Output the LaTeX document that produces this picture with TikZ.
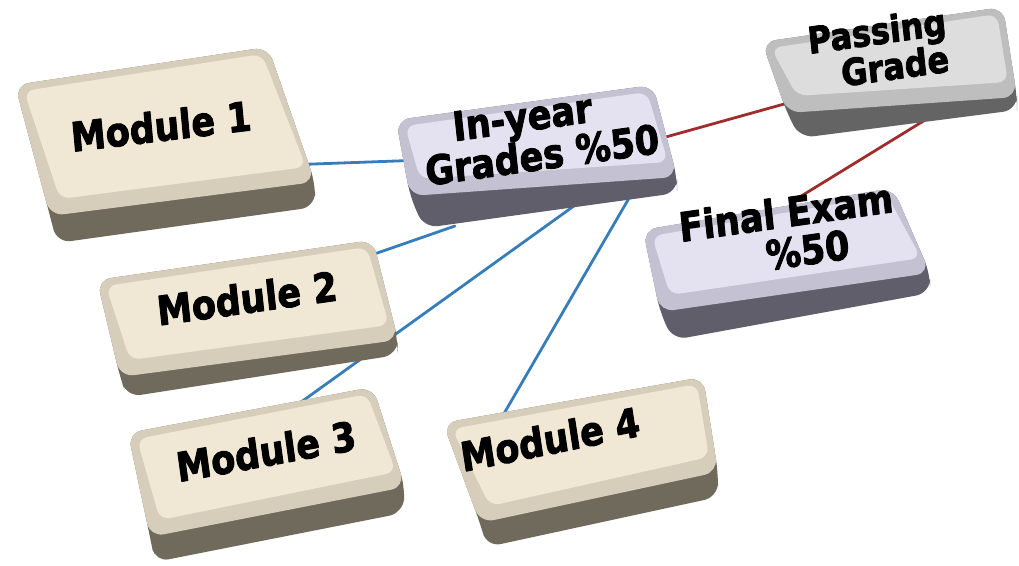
\documentclass[tikz,border=0pt]{standalone}
\usepackage{fontspec}
\setmainfont{DejaVu Sans}
\newfontfamily\keyfont{DejaVu Sans Bold}[FakeBold=2.5]
\usetikzlibrary{calc}

\definecolor{modtop}{RGB}{240,231,212}
\definecolor{modbev}{RGB}{214,205,187}
\definecolor{modside}{RGB}{112,106,93}
\definecolor{lavtop}{RGB}{228,226,240}
\definecolor{lavbev}{RGB}{196,194,210}
\definecolor{lavside}{RGB}{96,94,106}
\definecolor{grytop}{RGB}{221,221,221}
\definecolor{grybev}{RGB}{190,190,190}
\definecolor{gryside}{RGB}{100,100,100}
\definecolor{linkblue}{RGB}{55,125,185}
\definecolor{linkred}{RGB}{160,45,45}

% #1 colour, #2 TL, #3 TR, #4 BR, #5 BL, #6 BR of side, #7 BL of side
\newcommand{\keycap}[7]{%
	\fill[#1side, rounded corners=14pt] (#2) -- (#3) -- (#4) -- (#6) -- (#7) -- (#5) -- cycle;
	\fill[#1bev, rounded corners=14pt] (#2) -- (#3) -- (#4) -- (#5) -- cycle;
	\fill[#1top, rounded corners=10pt] ($(#2)+(9,6)$) -- ($(#3)+(-6,7)$)
		-- ($(#4)+(-9,-15)$) -- ($(#5)+(10,-17)$) -- cycle;
}

\tikzset{
	lbl/.style={font=\keyfont\fontsize{35}{31}\selectfont, align=center, inner sep=0pt, yscale=1.15},
	bluelink/.style={draw=linkblue, line width=2.8pt},
	redlink/.style={draw=linkred, line width=2.8pt}
}

\begin{document}
\begin{tikzpicture}[x=1pt, y=-1pt, line join=round, line cap=round]
	
	\useasboundingbox (0,0) rectangle (1019,565);
	
	% connector ends
	\coordinate (m1e) at (300,164.5);  \coordinate (iyw) at (410,160.5);
	\coordinate (m2n) at (360,259);    \coordinate (iysw) at (455,226);
	\coordinate (m3n) at (290,410);    \coordinate (iys) at (585,198);
	\coordinate (m4n) at (502,417);    \coordinate (iyse) at (632,193);
	\coordinate (iye) at (655,140);    \coordinate (pgw) at (795,101);
	\coordinate (pgs) at (930,117);    \coordinate (fen) at (798,198);
	
	\draw[bluelink] (m1e) -- (iyw);
	\draw[bluelink] (m2n) -- (iysw);
	\draw[bluelink] (m3n) -- (iys);
	\draw[bluelink] (m4n) -- (iyse);
	\draw[redlink] (iye) -- (pgw);
	\draw[redlink] (pgs) -- (fen);
	
	% keys, back to front
	\keycap{mod}{15,85}{268,47}{315,182}{50,216}{315,207}{57,243}
	\keycap{lav}{396,120}{653,85}{677,177}{410,196}{677,193}{424,228}
	\keycap{gry}{762,42}{1003,7}{1017,97}{787,113}{1017,110}{800,138}
	\keycap{lav}{643,230}{893,188}{930,273}{660,312}{930,293}{673,340}
	\keycap{mod}{97,280}{373,240}{398,340}{120,377}{397,355}{127,397}
	\keycap{mod}{128,433}{373,387}{405,487}{150,537}{403,513}{155,562}
	\keycap{mod}{443,423}{703,377}{718,472}{480,523}{718,497}{487,547}
	
	\node[lbl, rotate=6] (m1) at (161,126) {Module 1};
	\node[lbl, rotate=7] (iy) at (540,135) {In-year\hspace*{0.9em}\\Grades \%50};
	\node[lbl, rotate=7, font=\keyfont\fontsize{32}{27}\selectfont] (pg) at (893,47) {Passing\hspace*{0.9em}\\Grade};
	\node[lbl, rotate=7] (fe) at (788,232) {Final Exam\\[4pt]\hspace*{1.0em}\%50};
	\node[lbl, rotate=7] (m2) at (247,298) {Module 2};
	\node[lbl, rotate=9] (m3) at (266,451) {Module 3};
	\node[lbl, rotate=10] (m4) at (550,439) {Module 4};
	
\end{tikzpicture}
\end{document}
